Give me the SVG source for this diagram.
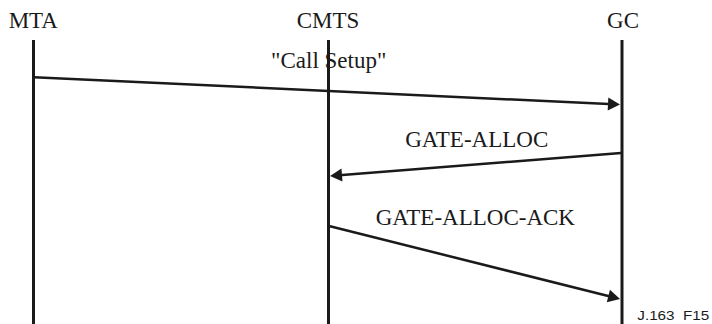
<svg xmlns="http://www.w3.org/2000/svg" width="712" height="324" viewBox="0 0 712 324">
  <style>
    .name { font-family: "Liberation Serif", "Times New Roman", serif; font-size: 23px; fill: #1a1a1a; text-anchor: middle; }
    .life { stroke: #1a1a1a; stroke-width: 3; fill: none; }
    .msg { stroke: #1a1a1a; stroke-width: 2.5; fill: none; marker-end: url(#head); }
    .tag { font-family: "Liberation Sans", Arial, sans-serif; font-size: 12.5px; fill: #1a1a1a; }
  </style>
  <defs>
    <marker id="head" markerUnits="userSpaceOnUse" markerWidth="12" markerHeight="13" refX="6" refY="6.5" orient="auto" overflow="visible">
      <path d="M0,0 L12,6.5 L0,13 Z" fill="#1a1a1a"/>
    </marker>
  </defs>
  <rect width="712" height="324" fill="#ffffff"/>

  <!-- lifelines -->
  <g id="mta">
    <line class="life" x1="33.5" y1="40" x2="33.5" y2="324"/>
    <text class="name" x="33.3" y="28">MTA</text>
  </g>
  <g id="cmts">
    <line class="life" x1="328.5" y1="40" x2="328.5" y2="324"/>
    <text class="name" x="328" y="28">CMTS</text>
  </g>
  <g id="gc">
    <line class="life" x1="622" y1="40" x2="622" y2="324"/>
    <text class="name" x="623" y="28">GC</text>
  </g>

  <!-- messages -->
  <g id="connectors">
    <line class="msg" x1="34" y1="77.3" x2="614" y2="104.2"/>
    <line class="msg" x1="621" y1="153" x2="336" y2="175.5"/>
    <line class="msg" x1="329" y1="226" x2="614.2" y2="297.5"/>
  </g>
  <g id="message-labels">
    <text class="name" x="328.7" y="67.5">"Call Setup"</text>
    <text class="name" x="476.7" y="147">GATE-ALLOC</text>
    <text class="name" x="475.3" y="225">GATE-ALLOC-ACK</text>
  </g>

  <text class="tag" x="637.3" y="319.8" textLength="72" lengthAdjust="spacingAndGlyphs" xml:space="preserve">J.163  F15</text>
</svg>
